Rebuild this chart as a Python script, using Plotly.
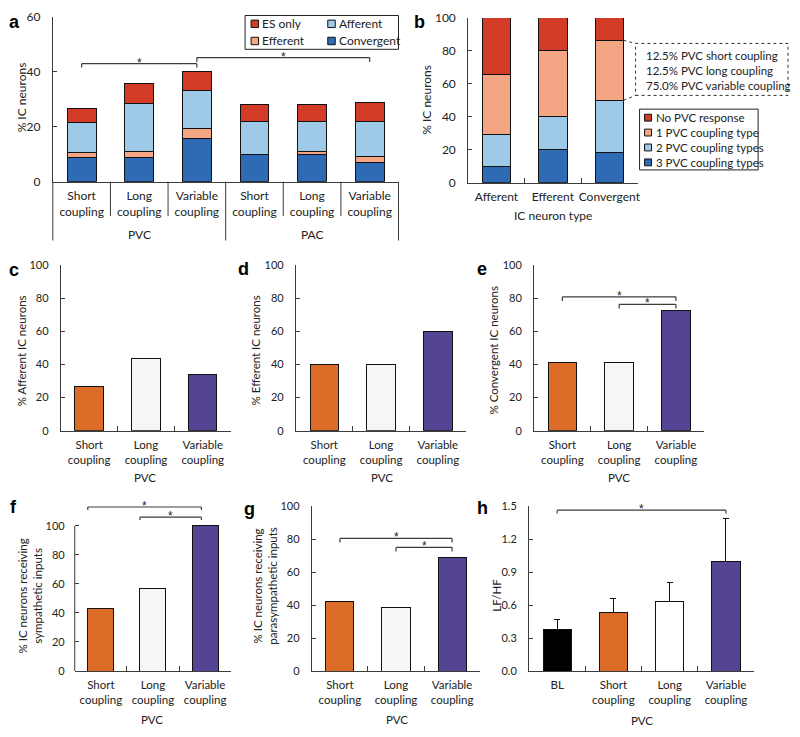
import plotly.graph_objects as go

# The page body keeps an 8px default margin, so the figure is drawn 16px smaller
# and every reference pixel position is shifted by that margin.
PAGE_W, PAGE_H, BODY_MARGIN = 800, 737, 8
W, H = PAGE_W - 2 * BODY_MARGIN, PAGE_H - 2 * BODY_MARGIN
FONT = "Lato, 'Open Sans', Arial, sans-serif"
LINE = "#3c3c3c"
TXT = "#222222"

# ---------------- data ----------------
# Panel a: % IC neurons responding to ectopic beats (stacked bars)
a_ticklabels = ["Short<br>coupling", "Long<br>coupling", "Variable<br>coupling",
                "Short<br>coupling", "Long<br>coupling", "Variable<br>coupling"]
a_groups = ["PVC", "PAC"]
a_convergent = [8.7, 8.7, 15.8, 10.0, 10.0, 6.9]
a_efferent = [2.0, 2.4, 3.4, 0.0, 1.0, 2.1]
a_afferent = [11.0, 17.5, 14.0, 11.9, 10.9, 12.9]
a_es_only = [5.1, 7.0, 6.9, 6.2, 6.2, 7.0]
a_series = ["ES only", "Afferent", "Efferent", "Convergent"]

# Panel b: coupling types per IC neuron type (stacked, %)
b_types = ["Afferent", "Efferent", "Convergent"]
b_three = [10.0, 20.0, 18.2]
b_two = [19.5, 20.0, 31.8]
b_one = [36.3, 40.0, 36.4]
b_none = [34.2, 20.0, 13.6]
b_series = ["No PVC response", "1 PVC coupling type", "2 PVC coupling types", "3 PVC coupling types"]
b_note = ["12.5% PVC short coupling", "12.5% PVC long coupling", "75.0% PVC variable coupling"]

# Panels c-h
coupling = ["Short<br>coupling", "Long<br>coupling", "Variable<br>coupling"]
c_afferent = [26.8, 43.9, 34.1]
d_efferent = [40.0, 40.0, 60.0]
e_convergent = [40.9, 40.9, 72.7]
f_sympathetic = [42.9, 57.1, 100.0]
g_parasympathetic = [42.3, 38.5, 69.2]
h_categories = ["BL", "Short<br>coupling", "Long<br>coupling", "Variable<br>coupling"]
h_lfhf = [0.38, 0.53, 0.63, 1.00]
h_err = [0.09, 0.13, 0.18, 0.39]

# ---------------- styles ----------------
C_ES, C_EFF, C_AFF, C_CONV = "#d13b27", "#f4a584", "#9fcae7", "#2f6bb4"
ORANGE, LIGHT, PURPLE, WHITE, BLACK = "#dc6d28", "#f6f6f6", "#554394", "#ffffff", "#000000"
coupling_colors = [ORANGE, LIGHT, PURPLE]
h_colors = [BLACK, ORANGE, WHITE, PURPLE]

# panel geometry in page pixels: (x0, x1), (ytop, ybottom)
GEOM = {
    1: ((53, 400), (10, 178)),
    2: ((470, 640), (11, 179)),
    3: ((61, 232), (263, 432)),
    4: ((297, 468), (263, 432)),
    5: ((536, 707), (263, 432)),
    6: ((75, 232), (505, 677)),
    7: ((313, 482), (509, 677)),
    8: ((531, 757), (509, 677)),
}


def px(x):
    return (x - BODY_MARGIN) / W


def py(y):
    return 1 - (y - BODY_MARGIN) / H


def ids(i):
    return ("x" if i == 1 else f"x{i}"), ("y" if i == 1 else f"y{i}")


fig = go.Figure()
bar_line = dict(color="#111111", width=1)

# ---- panel a ----
xa, ya = ids(1)
xpos_a = list(range(len(a_ticklabels)))
for name, vals, col in [("Convergent", a_convergent, C_CONV), ("Efferent", a_efferent, C_EFF),
                        ("Afferent", a_afferent, C_AFF), ("ES only", a_es_only, C_ES)]:
    fig.add_trace(go.Bar(x=xpos_a, y=vals, name=name, width=0.5, marker=dict(color=col, line=bar_line),
                         xaxis=xa, yaxis=ya))

# ---- panel b ----
xb, yb = ids(2)
for name, vals, col in [(b_series[3], b_three, C_CONV), (b_series[2], b_two, C_AFF),
                        (b_series[1], b_one, C_EFF), (b_series[0], b_none, C_ES)]:
    fig.add_trace(go.Bar(x=b_types, y=vals, name=name, width=0.5, marker=dict(color=col, line=bar_line),
                         xaxis=xb, yaxis=yb))

# ---- panels c-g ----
for i, vals in [(3, c_afferent), (4, d_efferent), (5, e_convergent), (6, f_sympathetic), (7, g_parasympathetic)]:
    xi, yi = ids(i)
    fig.add_trace(go.Bar(x=coupling, y=vals, width=0.5, marker=dict(color=coupling_colors, line=bar_line),
                         xaxis=xi, yaxis=yi))

# ---- panel h ----
xh, yh = ids(8)
fig.add_trace(go.Bar(x=h_categories, y=h_lfhf, width=0.5, marker=dict(color=h_colors, line=bar_line),
                     error_y=dict(type="data", array=h_err, arrayminus=[0] * len(h_err), symmetric=False,
                                  color="#111111", thickness=1, width=3),
                     xaxis=xh, yaxis=yh))

# ---------------- axes ----------------
tickfont_big = dict(family=FONT, size=12, color=TXT)
tickfont = dict(family=FONT, size=11.5, color=TXT)
ytickfont = dict(family=FONT, size=11, color=TXT)
yranges = {1: [0, 60], 2: [0, 100], 3: [0, 100], 4: [0, 100], 5: [0, 100], 6: [0, 116.2], 7: [0, 100], 8: [0, 1.5]}
yticks = {1: [0, 20, 40, 60], 2: [0, 20, 40, 60, 80, 100], 8: [0, 0.3, 0.6, 0.9, 1.2, 1.5]}
layout_axes = {}
for i, ((x0, x1), (yt, ybm)) in GEOM.items():
    xn, yn = ids(i)
    xkey = "xaxis" if i == 1 else f"xaxis{i}"
    ykey = "yaxis" if i == 1 else f"yaxis{i}"
    tf = tickfont_big if i <= 2 else tickfont
    ytf = tickfont_big if i <= 2 else ytickfont
    xax = dict(domain=[px(x0), px(x1)], anchor=yn, showline=True, linecolor=LINE, linewidth=1,
               showgrid=False, zeroline=False, tickfont=tf, fixedrange=True, ticklabelstandoff=3,
               tickangle=0)
    if i == 1:
        xax.update(type="linear", range=[-0.5, 5.5], tickvals=xpos_a, ticktext=a_ticklabels, ticks="")
    else:
        xax.update(type="category", tickson="boundaries", ticks="inside", ticklen=5, tickcolor=LINE)
    tv = yticks.get(i, [0, 20, 40, 60, 80, 100])
    yax = dict(domain=[py(ybm), py(yt)], anchor=xn, range=yranges[i], showline=(i != 6), linecolor=LINE,
               linewidth=1, showgrid=False, zeroline=False, ticks="inside", ticklen=4, tickcolor=LINE,
               tickvals=tv, tickfont=ytf, fixedrange=True, ticklabelstandoff=9)
    if i == 8:
        yax.update(tickformat=".1f")
    layout_axes[xkey] = xax
    layout_axes[ykey] = yax

fig.update_layout(**layout_axes)

shapes = []
annotations = []


def text(t, x, y, size=11.5, xanchor="center", yanchor="middle", angle=0, xref="paper", yref="paper",
         family=FONT, **kw):
    annotations.append(dict(text=t, x=x, y=y, xref=xref, yref=yref, showarrow=False, xanchor=xanchor,
                            yanchor=yanchor, textangle=angle, font=dict(family=family, size=size, color=TXT), **kw))


def bracket(i, xa0, xa1, yl, drop, star_size=12):
    xn, yn = ids(i)
    for (p0, q0, p1, q1) in [(xa0, yl - drop, xa0, yl), (xa0, yl, xa1, yl), (xa1, yl, xa1, yl - drop)]:
        shapes.append(dict(type="line", xref=xn, yref=yn, x0=p0, y0=q0, x1=p1, y1=q1,
                           line=dict(color=LINE, width=1.2)))
    text("*", (xa0 + xa1) / 2, yl, size=star_size, yanchor="bottom", xref=xn, yref=yn, yshift=-8,
         family="Arial, 'Liberation Sans', sans-serif")


# panel a: category dividers + group labels
(ax0, ax1), (ayt, ayb) = GEOM[1]
step = (ax1 - ax0) / 6
for k in range(7):
    xk = ax0 + k * step
    bottom = 238 if k in (0, 3, 6) else 213
    shapes.append(dict(type="line", xref="paper", yref="paper", x0=px(xk), x1=px(xk), y0=py(ayb), y1=py(bottom),
                       line=dict(color=LINE, width=1)))
text(a_groups[0], 1, py(232), xref="x", size=12)
text(a_groups[1], 4, py(232), xref="x", size=12)
bracket(1, 0, 2, 43.0, 1.4)
bracket(1, 2, 5, 45.2, 1.6)

# panel a legend (manual key)
shapes.append(dict(type="rect", xref="paper", yref="paper", x0=px(246), x1=px(400), y0=py(43), y1=py(8.5),
                   line=dict(color="#222222", width=1), fillcolor="white"))
for name, col, sx, sy in [("ES only", C_ES, 252, 17), ("Afferent", C_AFF, 329, 17),
                          ("Efferent", C_EFF, 252, 34.5), ("Convergent", C_CONV, 329, 34.5)]:
    shapes.append(dict(type="rect", xref="paper", yref="paper", x0=px(sx), x1=px(sx + 7.5), y0=py(sy + 3.8),
                       y1=py(sy - 3.8), fillcolor=col, line=dict(color="#111111", width=1)))
    text(name, px(sx + 9), py(sy), size=12, xanchor="left")

# panel b legend (manual key)
shapes.append(dict(type="rect", xref="paper", yref="paper", x0=px(642), x1=px(761), y0=py(166), y1=py(104),
                   line=dict(color="#222222", width=1), fillcolor="white"))
for name, col, sy in [(b_series[0], C_ES, 112.7), (b_series[1], C_EFF, 127.9),
                      (b_series[2], C_AFF, 143.1), (b_series[3], C_CONV, 158.3)]:
    shapes.append(dict(type="rect", xref="paper", yref="paper", x0=px(647), x1=px(654), y0=py(sy + 3.5),
                       y1=py(sy - 3.5), fillcolor=col, line=dict(color="#111111", width=1)))
    text(name, px(656), py(sy), size=11.5, xanchor="left")

# panel b dashed callout
shapes.append(dict(type="rect", xref="paper", yref="paper", x0=px(638), x1=px(791), y0=py(90), y1=py(37),
                   line=dict(color="#333333", width=1, dash="dot")))
conv_one_top = b_three[2] + b_two[2] + b_one[2]
conv_one_bottom = b_three[2] + b_two[2]
shapes.append(dict(type="line", xref="x2", yref="y2", x0=2.25, x1=2.465, y0=conv_one_top, y1=84.5,
                   line=dict(color="#333333", width=1, dash="dot")))
shapes.append(dict(type="line", xref="x2", yref="y2", x0=2.25, x1=2.465, y0=conv_one_bottom, y1=53.0,
                   line=dict(color="#333333", width=1, dash="dot")))
text("<br>".join(b_note), px(646), py(65), size=11.5, xanchor="left", align="left")

# brackets c-h
bracket(5, 0, 2, 80.8, 2.5)
bracket(5, 1, 2, 76.3, 2.5)
bracket(6, -0.25, 1.93, 113.0, 2.0)
bracket(6, 0.75, 1.93, 106.0, 2.0)
bracket(7, 0, 2, 80.5, 2.5)
bracket(7, 1, 2, 75.0, 2.5)
bracket(8, 0, 3, 1.464, 0.03)

# panel f axis line (only spans 0-100)
shapes.append(dict(type="line", xref="x6 domain", yref="y6", x0=0, x1=0, y0=0, y1=100,
                   line=dict(color=LINE, width=1)))

# axis titles
text("% IC neurons", px(21), py(92), angle=-90, size=12)
text("% IC neurons", px(428), py(94), angle=-90, size=12)
text("IC neuron type", px(555), py(212), size=12)
text("% Afferent IC neurons", px(21), py(350), angle=-90)
text("% Efferent IC neurons", px(256), py(350), angle=-90)
text("% Convergent IC neurons", px(495), py(350), angle=-90)
text("% IC neurons receiving<br>sympathetic inputs", px(30), py(600), angle=-90)
text("% IC neurons receiving<br>parasympathetic inputs", px(266), py(590), angle=-90)
text("LF/HF", px(498), py(600), angle=-90)
for xc, yc in [(146, 480), (383, 480), (621, 480), (153, 726), (398, 726), (644, 727)]:
    text("PVC", px(xc), py(yc))

# panel letters
for lab, xl, yl in [("a", 15, 15), ("b", 421, 15), ("c", 14, 268), ("d", 244, 267), ("e", 484, 267),
                    ("f", 14, 510), ("g", 250, 512), ("h", 484, 511)]:
    annotations.append(dict(text=f"<b>{lab}</b>", x=px(xl), y=py(yl), xref="paper", yref="paper",
                            showarrow=False, xanchor="center", yanchor="middle",
                            font=dict(family="Arial, 'Liberation Sans', sans-serif", size=18, color="#000")))

fig.update_layout(width=W, height=H, margin=dict(l=0, r=0, t=0, b=0), barmode="stack", showlegend=False,
                  paper_bgcolor="white", plot_bgcolor="white", shapes=shapes, annotations=annotations,
                  font=dict(family=FONT, color=TXT))

fig.write_html("out.html")
